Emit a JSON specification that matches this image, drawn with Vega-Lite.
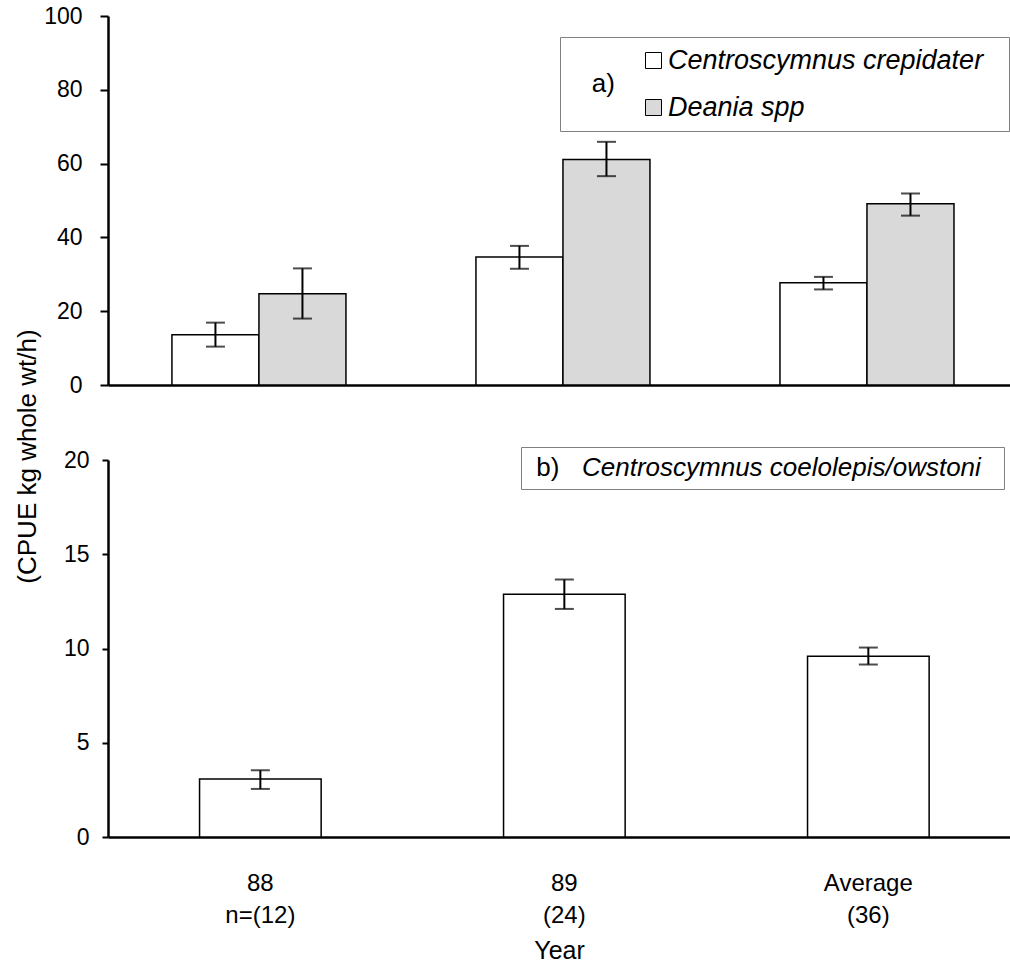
{
  "$schema": "https://vega.github.io/schema/vega-lite/v6.json",
  "background": "white",
  "padding": {"left": 14, "top": 5, "right": 0, "bottom": 6},
  "bounds": "flush",
  "spacing": 75,
  "config": {
    "font": "Liberation Sans",
    "view": {"stroke": null},
    "axis": {"grid": false, "labelColor": "black", "titleColor": "black", "domainColor": "black", "tickColor": "black", "titleFontWeight": "normal", "labelFont": "Liberation Sans", "titleFont": "Liberation Sans"},
    "legend": {"labelColor": "black", "titleColor": "black", "labelFont": "Liberation Sans", "titleFont": "Liberation Sans", "titleFontWeight": "normal"}
  },
  "datasets": {
    "a": [
      {"year": "88", "species": "Centroscymnus crepidater", "value": 13.6, "lo": 10.4, "hi": 16.9},
      {"year": "88", "species": "Deania spp", "value": 24.7, "lo": 18.0, "hi": 31.6},
      {"year": "89", "species": "Centroscymnus crepidater", "value": 34.7, "lo": 31.5, "hi": 37.7},
      {"year": "89", "species": "Deania spp", "value": 61.1, "lo": 56.6, "hi": 65.9},
      {"year": "Average", "species": "Centroscymnus crepidater", "value": 27.7, "lo": 25.9, "hi": 29.3},
      {"year": "Average", "species": "Deania spp", "value": 49.1, "lo": 45.9, "hi": 51.9}
    ],
    "b": [
      {"year": "88", "species": "Centroscymnus coelolepis/owstoni", "value": 3.08, "lo": 2.55, "hi": 3.54},
      {"year": "89", "species": "Centroscymnus coelolepis/owstoni", "value": 12.88, "lo": 12.1, "hi": 13.66},
      {"year": "Average", "species": "Centroscymnus coelolepis/owstoni", "value": 9.59, "lo": 9.15, "hi": 10.05}
    ]
  },
  "resolve": {"scale": {"x": "independent", "y": "independent", "fill": "independent"}, "legend": {"fill": "independent"}},
  "vconcat": [
    {
      "width": 902,
      "height": 369,
      "data": {"name": "a"},
      "encoding": {
        "x": {"field": "year", "type": "nominal", "sort": ["88", "89", "Average"],
          "scale": {"paddingInner": 0.4276, "paddingOuter": 0.1973, "align": 0.533},
          "axis": {"title": null, "labels": false, "ticks": false, "domainWidth": 2.5}},
        "xOffset": {"field": "species", "type": "nominal", "sort": ["Centroscymnus crepidater", "Deania spp"]}
      },
      "layer": [
        {
          "mark": {"type": "bar", "stroke": "black", "strokeWidth": 1.5},
          "encoding": {
            "y": {"field": "value", "type": "quantitative", "scale": {"domain": [0, 100], "nice": false},
              "title": "(CPUE kg whole wt/h)",
              "axis": {"values": [0, 20, 40, 60, 80, 100], "labelFontSize": 23, "tickSize": 8, "tickWidth": 2, "domainWidth": 2.5, "labelPadding": 18,
                "titleFontSize": 26, "titleX": -81, "titleY": 440, "titleAngle": -90, "titleBaseline": "middle", "titleAlign": "center"}},
            "fill": {"field": "species", "type": "nominal", "scale": {"domain": ["Centroscymnus crepidater", "Deania spp"], "range": ["white", "#d9d9d9"]},
              "legend": {"orient": "none", "legendX": 452, "legendY": 21, "title": "\u200b\u00a0\u00a0\u00a0a)", "titleOrient": "left", "titleAnchor": "middle", "titleBaseline": "middle", "titleFontSize": 26, "titlePadding": 25,
                "padding": 10, "rowPadding": 19, "symbolType": "square", "symbolSize": 256, "symbolStrokeColor": "black", "symbolStrokeWidth": 1,
                "labelOffset": 1, "labelFontSize": 27, "labelFontStyle": "italic", "labelLimit": 1000, "labelExpr": "datum.label + '\u00a0\u00a0\u200b'",
                "strokeColor": "#808080"}}
          }
        },
        {
          "mark": {"type": "rule", "color": "black", "strokeWidth": 2},
          "encoding": {"y": {"field": "lo", "type": "quantitative", "title": "(CPUE kg whole wt/h)"}, "y2": {"field": "hi"}}
        },
        {
          "mark": {"type": "tick", "color": "black", "thickness": 2, "size": 19},
          "encoding": {"y": {"field": "lo", "type": "quantitative", "title": "(CPUE kg whole wt/h)"}}
        },
        {
          "mark": {"type": "tick", "color": "black", "thickness": 2, "size": 19},
          "encoding": {"y": {"field": "hi", "type": "quantitative", "title": "(CPUE kg whole wt/h)"}}
        }
      ]
    },
    {
      "width": 902,
      "height": 377,
      "data": {"name": "b"},
      "encoding": {
        "x": {"field": "year", "type": "nominal", "sort": ["88", "89", "Average"],
          "scale": {"paddingInner": 0.6, "paddingOuter": 0.2836, "align": 0.531},
          "axis": {"title": "Year", "ticks": false, "domainWidth": 2.5, "labelAngle": 0, "labelFontSize": 24, "labelPadding": 34, "labelBaseline": "top", "labelLineHeight": 32,
            "labelExpr": "datum.value == '88' ? ['88', 'n=(12)'] : datum.value == '89' ? ['89', '(24)'] : ['Average', '(36)']",
            "titleFontSize": 25, "titlePadding": 11}}
      },
      "layer": [
        {
          "mark": {"type": "bar", "stroke": "black", "strokeWidth": 1.5},
          "encoding": {
            "y": {"field": "value", "type": "quantitative", "scale": {"domain": [0, 20], "nice": false}, "title": null,
              "axis": {"values": [0, 5, 10, 15, 20], "labelFontSize": 23, "tickSize": 6, "tickWidth": 2, "domainWidth": 2.5, "labelPadding": 13}},
            "fill": {"field": "species", "type": "nominal", "scale": {"domain": ["Centroscymnus coelolepis/owstoni"], "range": ["white"]},
              "legend": {"orient": "none", "legendX": 413, "legendY": -13, "title": "\u200b\u00a0b)", "titleOrient": "left", "titleAnchor": "middle", "titleBaseline": "middle", "titleFontSize": 26, "titlePadding": -4,
                "padding": 8, "symbolType": "square", "symbolSize": 1, "symbolOpacity": 0, "symbolStrokeWidth": 0,
                "labelOffset": 0, "labelFontSize": 26, "labelFontStyle": "italic", "labelLimit": 1000, "labelExpr": "datum.label + '\u00a0\u00a0\u200b'",
                "strokeColor": "#808080"}}
          }
        },
        {
          "mark": {"type": "rule", "color": "black", "strokeWidth": 2},
          "encoding": {"y": {"field": "lo", "type": "quantitative", "title": null}, "y2": {"field": "hi"}}
        },
        {
          "mark": {"type": "tick", "color": "black", "thickness": 2, "size": 19},
          "encoding": {"y": {"field": "lo", "type": "quantitative", "title": null}}
        },
        {
          "mark": {"type": "tick", "color": "black", "thickness": 2, "size": 19},
          "encoding": {"y": {"field": "hi", "type": "quantitative", "title": null}}
        }
      ]
    }
  ]
}
